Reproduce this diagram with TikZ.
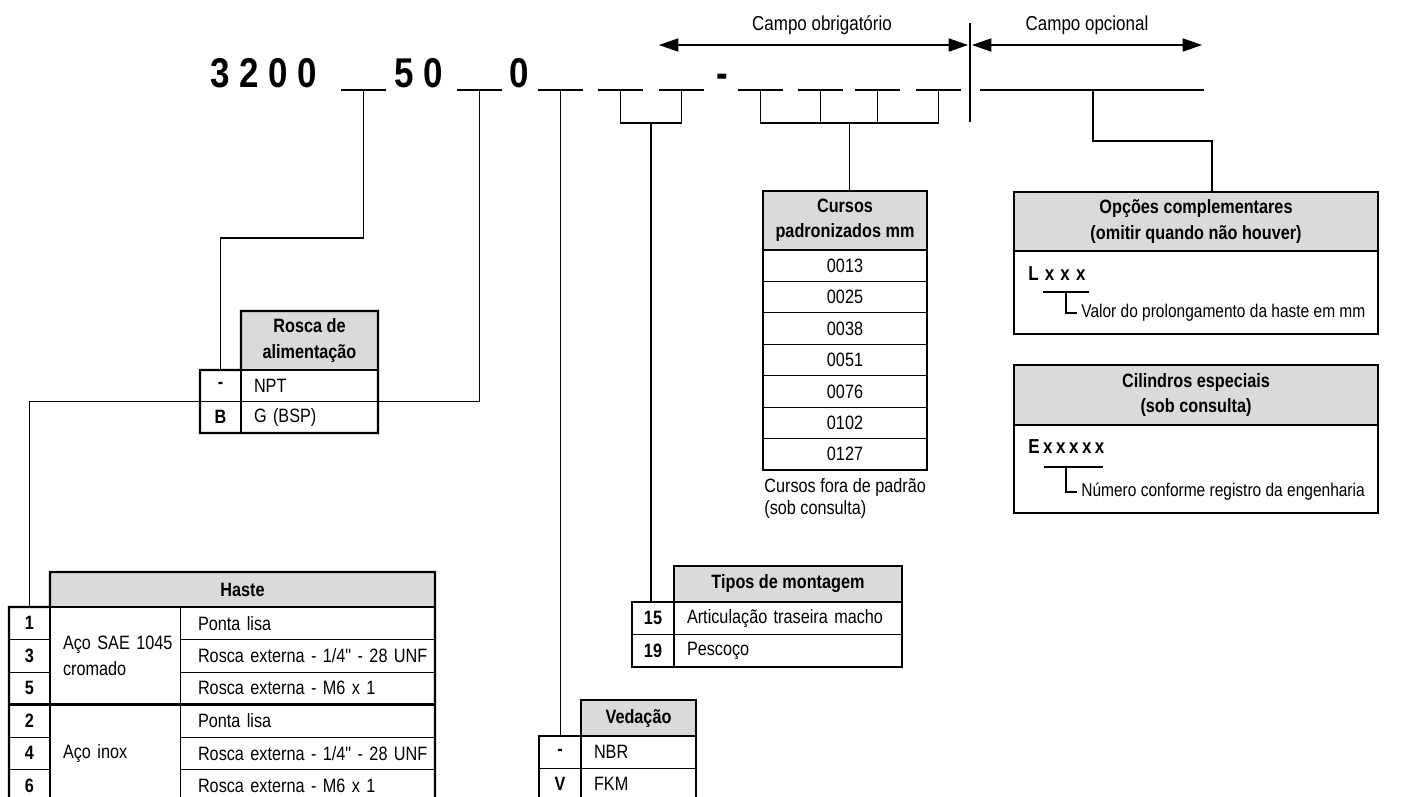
\documentclass[tikz,border=0pt]{standalone}
\usepackage{fontspec}
\setmainfont{Liberation Sans}[FakeStretch=0.84]
\newfontfamily\inchfont{Liberation Sans}[FakeStretch=0.84]
\newcommand{\inch}{{\inchfont"}}
\usepackage{xcolor}
\usetikzlibrary{positioning, calc, arrows.meta}

\definecolor{headgray}{gray}{0.855}

\begin{document}
\begin{tikzpicture}[
  x=0.02cm, y=-0.02cm,
  font=\fontsize{11}{14.5}\selectfont,
  thinrule/.style={line width=0.5pt},
  tableframe/.style={line width=1.4pt},
  link/.style={line width=0.6pt},
  blank/.style={line width=0.8pt},
  cell/.style 2 args={draw, thinrule, anchor=north west, inner sep=0pt, outer sep=0pt,
    minimum width=#1*0.02cm, minimum height=#2*0.02cm},
  codecell/.style 2 args={cell={#1}{#2}, font=\fontsize{11}{14.5}\selectfont\bfseries},
  headcell/.style 2 args={cell={#1}{#2}, fill=headgray, align=center,
    font=\fontsize{11}{14.5}\selectfont\bfseries},
  textcell/.style 2 args={cell={#1}{#2}, align=left, inner xsep=13*0.02cm,
    text width=(#1-26)*0.02cm},
  codetext/.style={anchor=base west, inner sep=0pt,
    font=\fontsize{23.7}{28}\selectfont\bfseries},
  dimarrow/.style={line width=0.6pt,
    {Triangle[length=11pt,width=7.5pt]}-{Triangle[length=11pt,width=7.5pt]}},
]
\useasboundingbox (0,0) rectangle (1406,796);

% row heights of the tables
\pgfmathsetmacro{\rh}{32.5}
\pgfmathsetmacro{\rc}{31.43}

% ---- order code ----
\node[codetext] (c3200) at (210,87) {3 2 0 0};
\node[codetext] (c50) at (394,87) {5 0};
\node[codetext] (c0) at (509,87) {0};
\node[codetext] (cdash) at (716,87) {-};

% blanks to fill in
\foreach \x [count=\k] in {341,457,538,598,659,738,798,855,916} {
  \coordinate (b\k) at (\x+22.5,90);
  \draw[blank] (\x,90) -- (\x+45,90);
}
\coordinate (opt) at (1093,90);
\draw[line width=1.3pt] (980,90) -- (1204,90);

% ---- fields ----
\coordinate (divTop) at (970,23);
\coordinate (divBot) at (970,122);
\draw[link] (divTop) -- (divBot);
\draw[dimarrow] (659,45) -- (968,45);
\draw[dimarrow] (972,45) -- (1202,45);
\node[font=\fontsize{11.5}{13}\selectfont] (lblObr) at (822,25) {Campo obrigatório};
\node[font=\fontsize{11.5}{13}\selectfont] (lblOpc) at (1087,25) {Campo opcional};

% ---- Rosca de alimentacao ----
\node[headcell={137}{59}] (rosHead) at (241,311) {Rosca de\\alimentação};
\foreach \cd/\txt [count=\k] in {-/NPT, B/G (BSP)} {
  \node[codecell={41}{31.5}] (rosC\k) at (200,{370+(\k-1)*31.5}) {\cd};
  \node[textcell={137}{31.5}] (rosD\k) at (241,{370+(\k-1)*31.5}) {\mbox{\txt}};
}
\draw[tableframe] (rosHead.north west) -- (rosHead.north east) -- (rosD2.south east)
  -- (rosC2.south west) -- (rosC1.north west) -- (rosHead.south west) -- cycle;
\draw[tableframe] (rosHead.south west) -- (rosHead.south east);
\draw[tableframe] (rosC1.north east) -- (rosC2.south east);

% ---- Haste ----
\node[headcell={385}{35}] (hasHead) at (50,572) {Haste};
\foreach \cd/\txt [count=\k] in {1/Ponta lisa,
    3/{Rosca externa - 1/4\inch{} - 28 UNF},
    5/Rosca externa - M6 x 1, 2/Ponta lisa,
    4/{Rosca externa - 1/4\inch{} - 28 UNF},
    6/Rosca externa - M6 x 1} {
  \node[codecell={41}{\rh}] (hasC\k) at (9,{607+(\k-1)*\rh}) {\cd};
  \node[textcell={255}{\rh}, inner xsep=18*0.02cm, text width=219*0.02cm]
    (hasD\k) at (180,{607+(\k-1)*\rh}) {\mbox{\txt}};
}
\node[textcell={130}{3*\rh}] (hasM1) at (50,607) {\mbox{Aço SAE 1045}\\cromado};
\node[textcell={130}{3*\rh}] (hasM2) at (50,{607+3*\rh}) {Aço inox};
\draw[tableframe] (hasHead.north west) -- (hasHead.north east) -- (hasD6.south east)
  -- (hasC6.south west) -- (hasC1.north west) -- (hasHead.south west) -- cycle;
\draw[tableframe] (hasHead.south west) -- (hasHead.south east);
\draw[tableframe] (hasC1.north east) -- (hasC6.south east);
\draw[tableframe] (hasC4.north west) -- (hasD4.north east);

% ---- Tipos de montagem ----
\node[headcell={228}{36}] (tipHead) at (674,566) {Tipos de montagem};
\foreach \cd/\txt [count=\k] in {15/Articulação traseira macho, 19/Pescoço} {
  \node[codecell={42}{\rh}] (tipC\k) at (632,{602+(\k-1)*\rh}) {\cd};
  \node[textcell={228}{\rh}] (tipD\k) at (674,{602+(\k-1)*\rh}) {\mbox{\txt}};
}
\draw[tableframe] (tipHead.north west) -- (tipHead.north east) -- (tipD2.south east)
  -- (tipC2.south west) -- (tipC1.north west) -- (tipHead.south west) -- cycle;
\draw[tableframe] (tipHead.south west) -- (tipHead.south east);
\draw[tableframe] (tipC1.north east) -- (tipC2.south east);

% ---- Vedacao ----
\node[headcell={115}{36}] (vedHead) at (581,700) {Vedação};
\foreach \cd/\txt [count=\k] in {-/NBR, V/FKM} {
  \node[codecell={42}{32}] (vedC\k) at (539,{736+(\k-1)*32}) {\cd};
  \node[textcell={115}{32}] (vedD\k) at (581,{736+(\k-1)*32}) {\txt};
}
\draw[tableframe] (vedHead.north west) -- (vedHead.north east) -- (vedD2.south east)
  -- (vedC2.south west) -- (vedC1.north west) -- (vedHead.south west) -- cycle;
\draw[tableframe] (vedHead.south west) -- (vedHead.south east);
\draw[tableframe] (vedC1.north east) -- (vedC2.south east);

% ---- Cursos padronizados ----
\node[headcell={164}{59}] (curHead) at (763,191) {Cursos\\padronizados mm};
\foreach \v [count=\k] in {0013,0025,0038,0051,0076,0102,0127} {
  \node[cell={164}{\rc}] (cur\k) at (763,{250+(\k-1)*\rc}) {\v};
}
\draw[tableframe] (curHead.north west) rectangle (cur7.south east);
\draw[tableframe] (curHead.south west) -- (curHead.south east);
\node[anchor=north west, align=left, inner sep=0pt, font=\fontsize{11}{12.5}\selectfont]
  (curNote) at ($(cur7.south west)+(1,8)$) {Cursos fora de padrão\\(sob consulta)};

% ---- Opcoes complementares ----
\node[headcell={364}{59}] (opcHead) at (1014,192)
  {Opções complementares\\(omitir quando não houver)};
\node[cell={364}{83}] (opcBody) at (1014,251) {};
\draw[tableframe] (opcHead.north west) rectangle (opcBody.south east);
\draw[tableframe] (opcHead.south west) -- (opcHead.south east);
\node[anchor=west, inner sep=0pt, font=\fontsize{11.5}{12}\selectfont\bfseries]
  (lxxx) at (1028,274) {L\hspace{3.5pt}x\hspace{3.5pt}x\hspace{3.5pt}x};
\draw[line width=1pt] (1043,292) -- (1089,292);
\draw[link] (1066,292) |- (1077,313);
\node[anchor=west, inner sep=0pt, font=\fontsize{10.5}{12}\selectfont]
  (lNote) at (1081,313) {Valor do prolongamento da haste em mm};

% ---- Cilindros especiais ----
\node[headcell={364}{60}] (cilHead) at (1014,365) {Cilindros especiais\\(sob consulta)};
\node[cell={364}{88}] (cilBody) at (1014,425) {};
\draw[tableframe] (cilHead.north west) rectangle (cilBody.south east);
\draw[tableframe] (cilHead.south west) -- (cilHead.south east);
\node[anchor=west, inner sep=0pt, font=\fontsize{11.5}{12}\selectfont\bfseries]
  (exxx) at (1028,447)
  {E\hspace{2pt}x\hspace{2pt}x\hspace{2pt}x\hspace{2pt}x\hspace{2pt}x};
\draw[line width=1pt] (1044,467) -- (1103,467);
\draw[link] (1066,467) |- (1077,492);
\node[anchor=west, inner sep=0pt, font=\fontsize{10.5}{12}\selectfont]
  (eNote) at (1081,492) {Número conforme registro da engenharia};

% ---- connectors ----
\draw[link] (b1) -- ++(0,148) -| (rosC1.north);
\draw[link] (b2) -- (b2 |- rosC1.south) -| (hasC1.north);
\draw[link] (b3) -- (b3 |- vedC1.north);
\draw[link] (b4) -- ++(0,33) -| (b5);
\coordinate (brkA) at ($(b4)!0.5!(b5)+(0,33)$);
\draw[link] (brkA) -- (brkA |- tipC1.north);
\draw[link] (b6) -- ++(0,33) -| (b9);
\foreach \k in {7,8} {
  \draw[link] (b\k) -- ++(0,33);
}
\coordinate (brkB) at ($(b6)!0.5!(b9)+(0,33)$);
\draw[link] (brkB) -- (brkB |- curHead.north);
\draw[link] (opt) -- ++(0,51) -| ($(opcHead.north)+(16,0)$);

\end{tikzpicture}
\end{document}
